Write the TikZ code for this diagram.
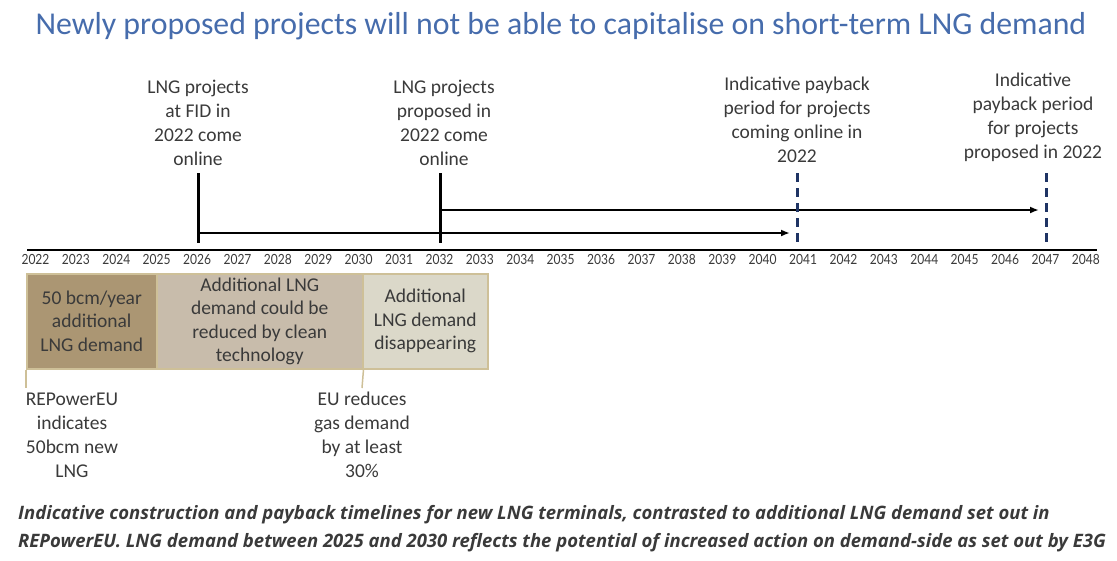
\documentclass[tikz,border=0pt]{standalone}
\usepackage{fontspec}
\setmainfont[Numbers=Lining]{Carlito}
\newfontfamily\capfont{Open Sans}
\newfontfamily\yrfont[Numbers=Lining,FakeStretch=0.86]{Lato}
\usepackage{tikz}
\usetikzlibrary{arrows.meta,calc,positioning}
\definecolor{txtgray}{RGB}{58,58,58}
\definecolor{titleblue}{RGB}{70,108,172}
\definecolor{navy}{RGB}{31,52,100}
\definecolor{bandA}{RGB}{171,150,115}
\definecolor{bandB}{RGB}{200,188,171}
\definecolor{bandC}{RGB}{219,216,201}
\definecolor{bandline}{RGB}{206,192,152}

\begin{document}
\begin{tikzpicture}[x=1pt, y=-1pt,
  lbl/.style={font=\fontsize{19.5}{24}\selectfont, text=txtgray, align=center, inner sep=0pt},
  yr/.style={font=\yrfont\fontsize{14}{16}\selectfont, text=txtgray, inner sep=0pt},
  band/.style={draw=bandline, line width=1.5pt, inner sep=0pt, anchor=north west,
               minimum height=95pt, align=center, text=txtgray,
               font=\fontsize{19.5}{23.5}\selectfont},
  stem/.style={line width=3pt},
  span/.style={line width=2.5pt, -{Latex[length=9pt,width=7pt]}},
  payback/.style={navy, line width=3pt, dash pattern=on 9pt off 6pt},
  tick/.style={bandline, line width=1.5pt}]
\useasboundingbox (0,0) rectangle (1117,560);

% title
\node[font=\fontsize{31.8}{36}\selectfont, text=titleblue] (title) at (561,26)
  {Newly proposed projects will not be able to capitalise on short-term LNG demand};

% time axis
\foreach \n [evaluate=\n as \yr using int(2022+\n)] in {0,...,26} {
  \coordinate (t\n) at ({35.5+40.4*\n},250);
  \node[yr] (yr\n) at ({35.5+40.4*\n},259) {\yr};
}
\coordinate (axl) at (27,250);
\coordinate (axr) at (1097,250);
\draw[line width=1.5pt] (axl) -- (axr);

% labels above the axis
\node[lbl] (fid) at (198,123) {LNG projects\\at FID in\\2022 come\\online};
\node[lbl] (prop) at (444,123) {LNG projects\\proposed in\\2022 come\\online};
\node[lbl] (pbA) at (797,120) {Indicative payback\\period for projects\\coming online in\\2022};
\node[lbl] (pbB) at (1033,117) {Indicative\\payback period\\for projects\\proposed in 2022};

% stems and spans
\coordinate (fidtop) at (198,173);
\coordinate (fidbot) at (198,243);
\coordinate (proptop) at (440,173);
\coordinate (propbot) at (440,243);
\coordinate (lowend) at (790,233);
\coordinate (upend) at (1039,210);
\draw[stem] (fidtop) -- (fidbot);
\draw[stem] (proptop) -- (propbot);
\draw[span] (fidtop |- lowend) -- (lowend);
\draw[span] (proptop |- upend) -- (upend);

% payback markers
\coordinate (pbAtop) at (797,173);
\coordinate (pbAbot) at (797,245);
\coordinate (pbBtop) at (1046,173);
\coordinate (pbBbot) at (1046,245);
\draw[payback] (pbAtop) -- (pbAbot);
\draw[payback] (pbBtop) -- (pbBbot);

% demand bands
\node[band, fill=bandA, minimum width=130pt] (demA) at (26,273)
  {50 bcm/year\\additional\\LNG demand};
\node[band, fill=bandB, minimum width=206pt] (demB) at (156,273)
  {Additional LNG\\demand could be\\reduced by clean\\technology};
\node[band, fill=bandC, minimum width=125pt] (demC) at (362,273)
  {Additional\\LNG demand\\disappearing};

% labels below
\coordinate (repA) at (26,388);
\coordinate (euA) at (362,388);
\draw[tick] (demA.south west) -- (repA);
\draw[tick] (demB.south east) -- (euA);
\node[lbl] (rep) at (72,435) {REPowerEU\\indicates\\50bcm new\\LNG};
\node[lbl] (eu) at (362,435) {EU reduces\\gas demand\\by at least\\30\%};

% caption
\node[font=\capfont\bfseries\itshape\fontsize{18.5}{28}\selectfont, text=txtgray,
      align=left, anchor=north west, inner sep=0pt] (cap) at (18,505)
  {Indicative construction and payback timelines for new LNG terminals, contrasted to additional LNG demand set out in\\
   REPowerEU. LNG demand between 2025 and 2030 reflects the potential of increased action on demand-side as set out by E3G};
\end{tikzpicture}
\end{document}
